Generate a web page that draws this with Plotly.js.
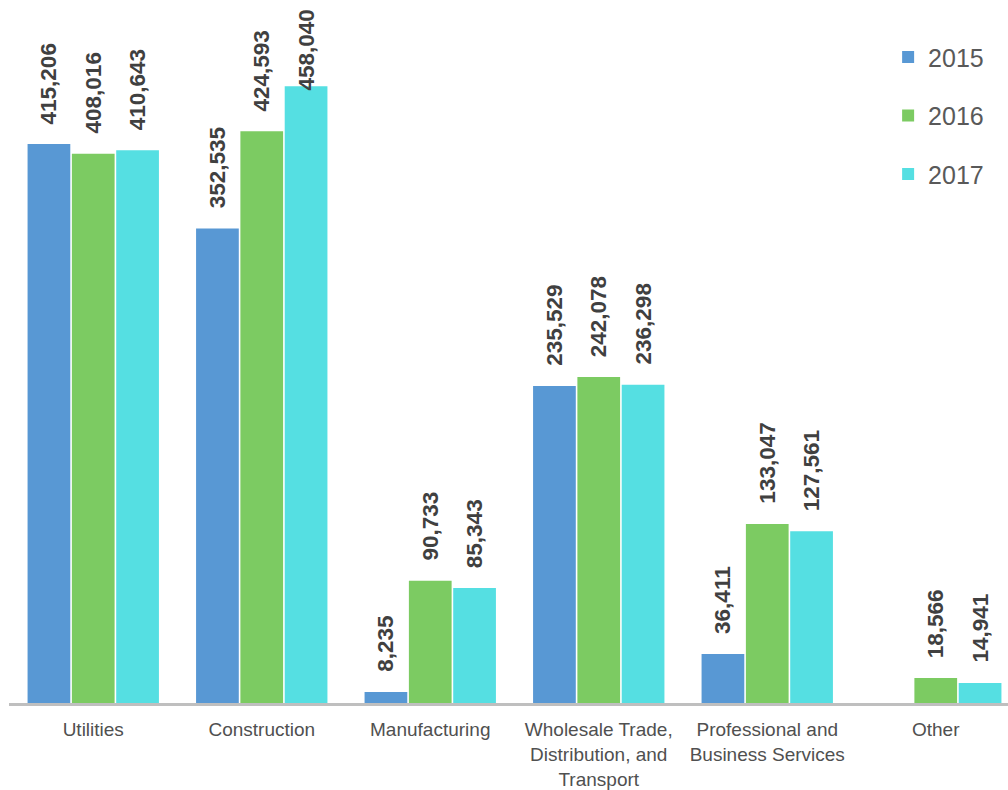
<!DOCTYPE html>
<html>
<head>
<meta charset="utf-8">
<script src="https://cdn.plot.ly/plotly-3.0.1.min.js"></script>
<style>html,body{margin:0;padding:0;background:#fff;}#chart{width:1008px;height:790px;}</style>
</head>
<body>
<div id="chart"></div>
<script>
// ---- data ----
const categories = ['Utilities', 'Construction', 'Manufacturing',
  'Wholesale Trade,<br>Distribution, and<br>Transport',
  'Professional and<br>Business Services', 'Other'];
const years = ['2015', '2016', '2017'];
const values2015 = [415206, 352535, 8235, 235529, 36411, null];
const values2016 = [408016, 424593, 90733, 242078, 133047, 18566];
const values2017 = [410643, 458040, 85343, 236298, 127561, 14941];
const seriesValues = [values2015, values2016, values2017];
const colors = ['#5898D4', '#7CCB62', '#55DFE2'];

// ---- layout constants ----
const W = 1008, H = 790;
const M = {l: 9, r: 0, t: 10, b: 87};
const plotW = W - M.l - M.r, plotH = H - M.t - M.b;
const catPx = 168.5;
const xMax = plotW / catPx - 0.5;
const yMax = 514744;
const pxPerUnit = plotH / yMax;
const bargap = 0.211, bargroupgap = 0.036;
const slot = (1 - bargap) / years.length;
const labelFont = {family: 'Liberation Sans, Arial, sans-serif', size: 22.5, color: '#404040', weight: 700};
const labelGap = 18, labelLen = 82;

const traces = years.map((yr, i) => ({
  type: 'bar', name: yr, x: categories.map((c, j) => j), y: seriesValues[i],
  marker: {color: colors[i]}, legendgroup: yr, hoverinfo: 'skip'
}));

const annotations = [];
seriesValues.forEach((vals, i) => {
  vals.forEach((v, j) => {
    if (v === null) return;
    const x = j + (i - (years.length - 1) / 2) * slot;
    const text = '<b>' + v.toLocaleString('en-US') + '</b>';
    const topPx = v * pxPerUnit + labelGap + labelLen;
    if (topPx > plotH + M.t - 8) {
      annotations.push({x: x, y: yMax, xref: 'x', yref: 'y', text: text, textangle: -90,
        showarrow: false, yanchor: 'top', xanchor: 'center', yshift: 2, font: labelFont});
    } else {
      annotations.push({x: x, y: v, xref: 'x', yref: 'y', text: text, textangle: -90,
        showarrow: false, yanchor: 'bottom', xanchor: 'center', yshift: labelGap, font: labelFont});
    }
  });
});

const layout = {
  width: W, height: H, margin: M,
  paper_bgcolor: '#ffffff', plot_bgcolor: '#ffffff',
  barmode: 'group', bargap: bargap, bargroupgap: bargroupgap,
  showlegend: true,
  legend: {x: 0.880, y: 0.965, xanchor: 'left', yanchor: 'top', tracegroupgap: 23,
    font: {family: 'Liberation Sans, Arial, sans-serif', size: 25, color: '#595959'},
    bgcolor: 'rgba(0,0,0,0)'},
  xaxis: {type: 'linear', range: [-0.5, xMax], tickvals: categories.map((c, j) => j), ticktext: categories,
    showline: true, linecolor: '#bfbfbf', linewidth: 2.5, showgrid: false, zeroline: false,
    ticks: '', ticklabelstandoff: 8,
    tickfont: {family: 'Liberation Sans, Arial, sans-serif', size: 19, color: '#505050'}},
  yaxis: {range: [0, yMax], visible: false, showgrid: false, zeroline: false},
  annotations: annotations,
  font: {family: 'Liberation Sans, Arial, sans-serif'}
};

Plotly.newPlot('chart', traces, layout, {staticPlot: true, displayModeBar: false});
</script>
</body>
</html>
